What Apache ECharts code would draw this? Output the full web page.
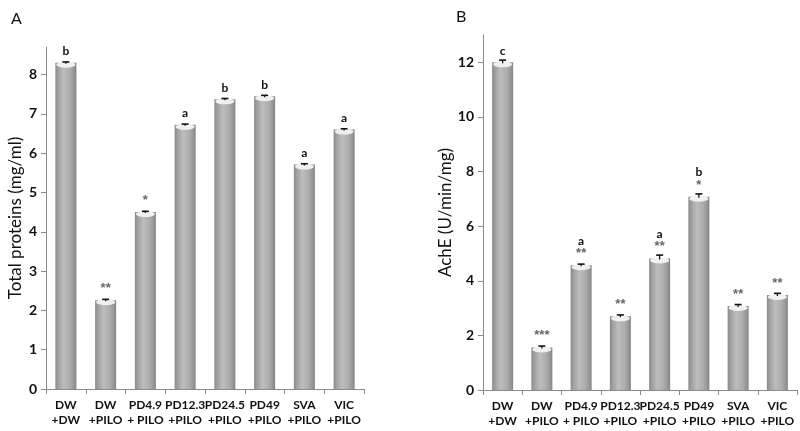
<!DOCTYPE html>
<html>
<head>
<meta charset="utf-8">
<script src="https://cdn.jsdelivr.net/npm/echarts@6/dist/echarts.min.js"></script>
<style>
html,body{margin:0;padding:0;background:#fff;}
#c{width:800px;height:431px;}
</style>
</head>
<body>
<div id="c"></div>
<script>
// ---- data ----
var categories = ['DW\n+DW', 'DW\n+PILO', 'PD4.9\n+ PILO', 'PD12.3\n+PILO', 'PD24.5\n+PILO', 'PD49\n+PILO', 'SVA\n+PILO', 'VIC\n+PILO'];
var proteinValues = [8.30, 2.26, 4.50, 6.72, 7.37, 7.45, 5.71, 6.60];
var proteinErrors = [0.02, 0.02, 0.02, 0.02, 0.02, 0.02, 0.02, 0.02];
var proteinLetters = ['b', '', '', 'a', 'b', 'b', 'a', 'a'];
var proteinStars = ['', '**', '*', '', '', '', '', ''];
var proteinTicks = [0, 1, 2, 3, 4, 5, 6, 7, 8];

var acheValues = [12.0, 1.56, 4.57, 2.70, 4.82, 7.08, 3.08, 3.48];
var acheErrors = [0.08, 0.05, 0.04, 0.05, 0.12, 0.10, 0.05, 0.06];
var acheLetters = ['c', '', 'a', '', 'a', 'b', '', ''];
var acheStars = ['', '***', '**', '**', '**', '*', '**', '**'];
var acheTicks = [0, 2, 4, 6, 8, 10, 12];

// ---- styles ----
var FONT = 'Lato, "Open Sans", sans-serif';
var barGrad = {
  type: 'linear', x: 0, y: 0, x2: 1, y2: 0,
  colorStops: [
    {offset: 0, color: '#888888'},
    {offset: 0.12, color: '#9e9e9e'},
    {offset: 0.4, color: '#bdbdbd'},
    {offset: 0.7, color: '#adadad'},
    {offset: 0.9, color: '#959595'},
    {offset: 1, color: '#828282'}
  ]
};

function sigLabel(letters, stars) {
  return function (p) {
    var l = letters[p.dataIndex], s = stars[p.dataIndex];
    var parts = [];
    if (l) parts.push('{l|' + l + '}');
    if (s) parts.push('{s|' + s + '}');
    return parts.join('\n');
  };
}

function errSeries(xi, vals, errs) {
  return {
    type: 'custom',
    xAxisIndex: xi, yAxisIndex: xi,
    z: 5,
    silent: true,
    data: vals.map(function (v, i) { return [i, v, errs[i]]; }),
    renderItem: function (params, api) {
      var i = api.value(0), v = api.value(1), e = api.value(2);
      var top = api.coord([i, v + e]);
      var mid = api.coord([i, v]);
      var hw = 3.5;
      return {
        type: 'group',
        children: [
          {type: 'line', shape: {x1: top[0], y1: top[1], x2: mid[0], y2: mid[1] + 1}, style: {stroke: '#111', lineWidth: 1.2}},
          {type: 'line', shape: {x1: top[0] - hw, y1: top[1], x2: top[0] + hw, y2: top[1]}, style: {stroke: '#111', lineWidth: 1.6}}
        ]
      };
    }
  };
}

function barSeries(xi, vals, letters, stars) {
  return {
    type: 'bar',
    xAxisIndex: xi, yAxisIndex: xi,
    data: vals,
    barWidth: 21,
    itemStyle: {color: barGrad},
    label: {
      show: true, position: 'top', distance: 5,
      formatter: sigLabel(letters, stars),
      rich: {
        l: {fontFamily: FONT, fontWeight: 'bold', fontSize: 12, color: '#111', lineHeight: 13},
        s: {fontFamily: '"Liberation Sans", sans-serif', fontWeight: 'bold', fontSize: 13, color: '#666', lineHeight: 13}
      }
    }
  };
}

function capSeries(xi, vals) {
  return {
    type: 'pictorialBar',
    xAxisIndex: xi, yAxisIndex: xi,
    data: vals,
    barWidth: 21,
    barGap: '-100%',
    symbol: 'circle',
    symbolSize: [19, 6],
    symbolPosition: 'end',
    symbolOffset: [0, -1],
    itemStyle: {color: '#f0f0f0'},
    z: 3,
    silent: true
  };
}

function xAx(gi) {
  return {
    type: 'category', gridIndex: gi, data: categories,
    axisLine: {lineStyle: {color: '#8a8a8a', width: 1}},
    axisTick: {show: true, length: 5, lineStyle: {color: '#8a8a8a'}},
    axisLabel: {fontFamily: FONT, fontWeight: 'bold', fontSize: 12, color: '#111', lineHeight: 15, margin: 9, interval: 0}
  };
}

function yAx(gi, max, ticks, name, gap) {
  return {
    type: 'value', gridIndex: gi, min: 0, max: max,
    name: name, nameLocation: 'middle', nameGap: gap, nameRotate: 90,
    nameTextStyle: {fontFamily: FONT, fontSize: 17, color: '#111'},
    splitLine: {show: false},
    axisLine: {show: true, lineStyle: {color: '#8a8a8a', width: 1}},
    axisTick: {show: true, length: 5, lineStyle: {color: '#8a8a8a'}, customValues: ticks},
    axisLabel: {fontFamily: FONT, fontWeight: 'bold', fontSize: 14, color: '#111', margin: 9, customValues: ticks}
  };
}

var chart = echarts.init(document.getElementById('c'), null, {renderer: 'canvas'});
chart.setOption({
  animation: false,
  backgroundColor: '#fff',
  title: [
    {text: 'A', left: 6, top: 6, textStyle: {fontFamily: FONT, fontSize: 16, fontWeight: 'normal', color: '#111'}},
    {text: 'B', left: 451, top: 4, textStyle: {fontFamily: FONT, fontSize: 16, fontWeight: 'normal', color: '#111'}}
  ],
  grid: [
    {left: 46, right: 436, top: 47, bottom: 42},
    {left: 483, right: 3, top: 35, bottom: 41}
  ],
  xAxis: [xAx(0), xAx(1)],
  yAxis: [
    yAx(0, 8.7, proteinTicks, 'Total proteins (mg/ml)', 22),
    yAx(1, 13, acheTicks, 'AchE (U/min/mg)', 28)
  ],
  series: [
    barSeries(0, proteinValues, proteinLetters, proteinStars),
    capSeries(0, proteinValues),
    errSeries(0, proteinValues, proteinErrors),
    barSeries(1, acheValues, acheLetters, acheStars),
    capSeries(1, acheValues),
    errSeries(1, acheValues, acheErrors)
  ]
});
</script>
</body>
</html>
